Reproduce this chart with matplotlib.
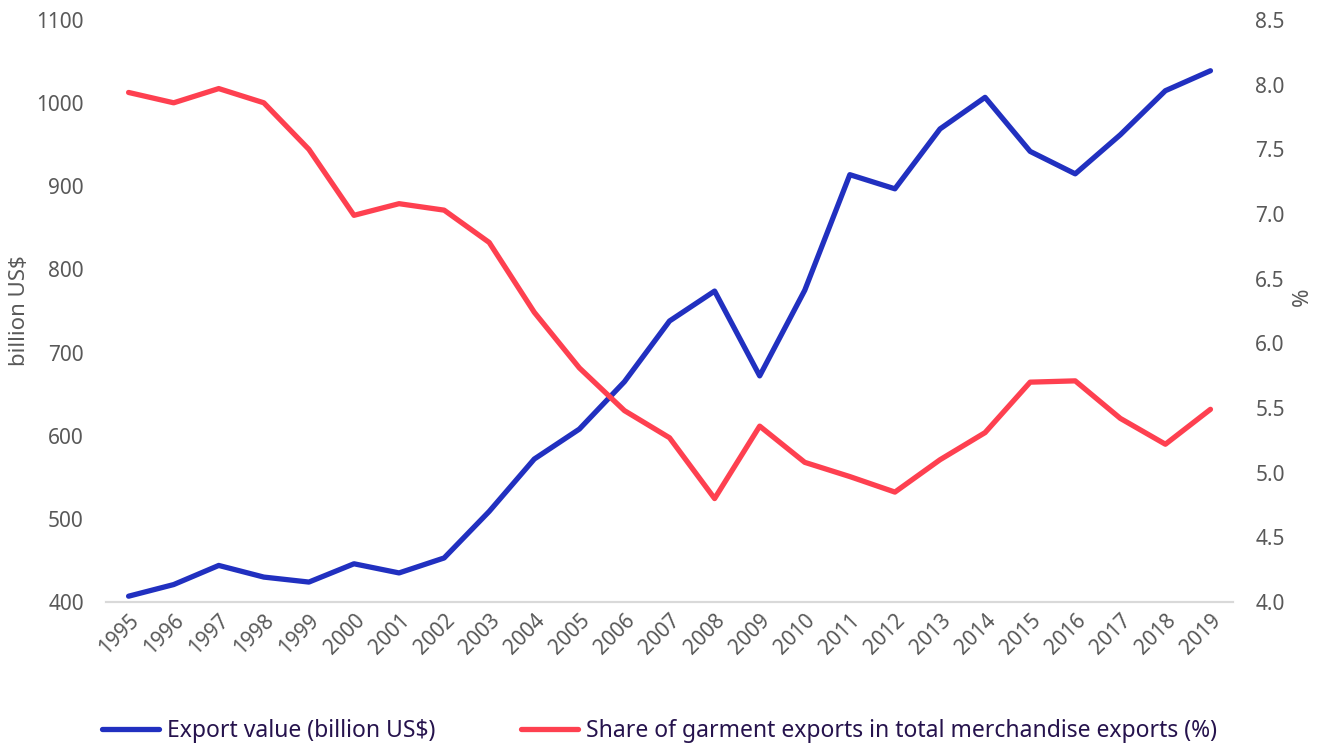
import matplotlib.pyplot as plt

# --- DATA ---
years = [str(y) for y in range(1995, 2020)]
export_value = [407, 421, 444, 430, 424, 446, 435, 453, 509, 572, 608, 665, 738,
                774, 672, 775, 914, 897, 969, 1007, 942, 915, 962, 1015, 1039]
garment_share = [7.94, 7.86, 7.97, 7.86, 7.50, 6.99, 7.08, 7.03, 6.78, 6.24, 5.81,
                 5.48, 5.27, 4.80, 5.36, 5.08, 4.97, 4.85, 5.10, 5.31, 5.70, 5.71,
                 5.42, 5.22, 5.49]

BLUE = '#2130c0'
RED = '#fe4050'
GREY = '#595959'

plt.rcParams['font.family'] = ['Noto Sans', 'DejaVu Sans']

fig = plt.figure(figsize=(13.19, 7.53), dpi=100)
ax = fig.add_axes([0.0804, 0.2005, 0.8544, 0.7729])
ax2 = ax.twinx()

x = list(range(len(years)))
l1, = ax.plot(x, export_value, color=BLUE, lw=3.8, solid_capstyle='round',
              label='Export value (billion US$)')
l2, = ax2.plot(x, garment_share, color=RED, lw=3.8, solid_capstyle='round',
               label='Share of garment exports in total merchandise exports (%)')

ax.set_xlim(-0.5, len(years) - 0.5)
ax.set_ylim(400, 1100)
ax.set_yticks(range(400, 1101, 100))
ax2.set_ylim(4.0, 8.5)
ax2.set_yticks([4.0 + 0.5 * i for i in range(10)])
ax2.set_yticklabels([f'{4.0 + 0.5 * i:.1f}' for i in range(10)])

ax.set_xticks(x)
ax.set_xticklabels(years, rotation=45, ha='right', rotation_mode='anchor')

for a in (ax, ax2):
    for s in ('top', 'left', 'right'):
        a.spines[s].set_visible(False)
    a.spines['bottom'].set_color('#d9d9d9')
    a.spines['bottom'].set_linewidth(1.5)
    a.tick_params(length=0, labelsize=15, labelcolor=GREY)
ax.tick_params(axis='y', pad=16)
ax2.tick_params(axis='y', pad=16)
ax.tick_params(axis='x', pad=6)

# axis titles placed in figure coordinates
ax.set_ylabel('billion US$', fontsize=16, color=GREY)
ax.yaxis.set_label_coords(30 / 1319, 1 - 311 / 753, transform=fig.transFigure)
ax2.set_ylabel('%', fontsize=16, color=GREY)
ax2.yaxis.set_label_coords(1292 / 1319, 1 - 297 / 753, transform=fig.transFigure)

fig.legend(handles=[l1, l2], loc='center', bbox_to_anchor=(0.5, 1 - 731 / 753),
           ncol=2, frameon=False, fontsize=16.5, handlelength=2.5,
           handletextpad=0.35, columnspacing=3.7, labelcolor='#26134d')

fig.savefig('out.png', dpi=100)
